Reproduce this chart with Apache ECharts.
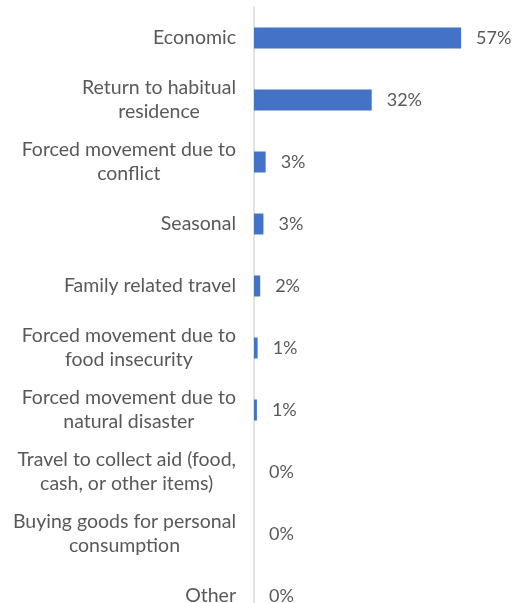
<!DOCTYPE html>
<html><head><meta charset="utf-8">
<script src="https://cdn.jsdelivr.net/npm/echarts@6/dist/echarts.min.js"></script>
<style>html,body{margin:0;padding:0;background:#fff}#c{width:515px;height:603px}</style>
</head><body><div id="c"></div>
<script>
const categories = [
  "Economic",
  "Return to habitual\nresidence",
  "Forced movement due to\nconflict",
  "Seasonal",
  "Family related travel",
  "Forced movement due to\nfood insecurity",
  "Forced movement due to\nnatural disaster",
  "Travel to collect aid (food,\ncash, or other items)",
  "Buying goods for personal\nconsumption",
  "Other"
];
const values = [57, 32.4, 3.2, 2.6, 1.7, 1.0, 0.8, 0, 0, 0];

const chart = echarts.init(document.getElementById('c'));
const FONT = 'Lato';
chart.setOption({
  animation: false,
  grid: { left: 254, top: 7, width: 218, height: 620, containLabel: false, outerBoundsMode: 'none' },
  xAxis: { type: 'value', min: 0, max: 60, show: false },
  yAxis: {
    type: 'category', data: categories, inverse: true,
    axisLine: { show: true, lineStyle: { color: '#d9d9d9', width: 1.5 } },
    axisTick: { show: false },
    axisLabel: {
      margin: 18, fontFamily: FONT, fontSize: 19.5, color: '#595959', lineHeight: 24,
      formatter: v => v.split('\n').map(s => '{c|' + s + '}').join('\n'),
      rich: { c: { align: 'center', fontFamily: FONT, fontSize: 19.5, color: '#595959', lineHeight: 24 } }
    }
  },
  series: [{
    type: 'bar', data: values, barWidth: 21,
    itemStyle: { color: '#4472C4' },
    label: {
      show: true, position: 'right', distance: 15,
      fontFamily: FONT, fontSize: 18, color: '#595959',
      formatter: p => Math.round(p.value) + '%'
    }
  }]
});
</script></body></html>
